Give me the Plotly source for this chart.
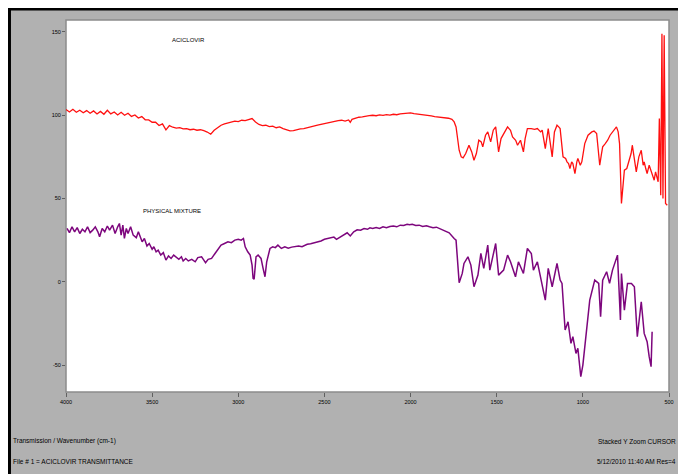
import plotly.graph_objects as go

# ---------------- data ----------------
x_ticks = [4000, 3500, 3000, 2500, 2000, 1500, 1000, 500]
y_ticks = [150, 100, 50, 0, -50]

aciclovir_wn = [
    4000, 3980, 3960, 3940, 3920, 3900, 3880, 3860, 3840, 3820, 3800, 3780, 3760, 3740, 3720, 3700,
    3680, 3660, 3640, 3620, 3600, 3580, 3560, 3540, 3520, 3500, 3480, 3460, 3440, 3420, 3400, 3380,
    3360, 3340, 3320, 3300, 3280, 3260, 3240, 3220, 3200, 3180, 3160, 3140, 3120, 3100, 3080, 3060,
    3040, 3020, 3000, 2980, 2960, 2940, 2920, 2900, 2880, 2860, 2840, 2820, 2800, 2780, 2760, 2740,
    2720, 2700, 2680, 2660, 2640, 2620, 2600, 2580, 2560, 2540, 2520, 2500, 2480, 2460, 2440, 2420,
    2400, 2380, 2360, 2350, 2340, 2320, 2300, 2280, 2260, 2240, 2220, 2200, 2180, 2160, 2140, 2120,
    2100, 2080, 2060, 2040, 2020, 2000, 1980, 1960, 1940, 1920, 1900, 1880, 1860, 1840, 1820, 1800,
    1780, 1760, 1747, 1736, 1718, 1706, 1695, 1680, 1661, 1645, 1632, 1618, 1604, 1590, 1581, 1565,
    1552, 1535, 1520, 1506, 1489, 1475, 1460, 1437, 1420, 1408, 1390, 1379, 1362, 1345, 1335, 1322,
    1300, 1280, 1264, 1245, 1236, 1218, 1201, 1178, 1165, 1150, 1140, 1132, 1115, 1100, 1092, 1083,
    1075, 1065, 1058, 1046, 1035, 1029, 1015, 1006, 989, 970, 948, 935, 920, 910, 902, 893,
    885, 870, 856, 842, 828, 815, 805, 795, 787, 776, 765, 759, 745, 730, 720, 713,
    700, 690, 675, 661, 650, 644, 635, 627, 615, 604, 595, 586, 578, 569, 563, 556,
    548, 541, 535, 528, 520, 510,
]
aciclovir_t = [
    103.5, 102.0, 103.6, 101.8, 103.0, 101.5, 102.8, 101.2, 102.6, 100.8, 102.3, 100.6, 103.0, 100.8, 102.0, 100.2,
    101.8, 100.0, 101.2, 99.3, 100.2, 98.3, 99.2, 97.3, 97.2, 95.8, 95.8, 93.8, 94.8, 91.2, 93.8, 92.8,
    92.3, 92.6, 91.8, 92.0, 91.3, 91.6, 91.0, 91.3, 90.7, 89.9, 88.6, 91.0, 92.5, 94.0, 94.8, 95.5,
    96.0, 96.5, 96.2, 97.0, 96.8, 97.5, 98.0, 96.0, 94.5, 93.8, 94.0, 93.2, 93.5, 92.5, 93.0, 92.0,
    91.2, 90.6, 90.8, 91.5, 91.8, 92.0, 92.4, 93.0, 93.5, 94.0, 94.5, 95.0, 95.6, 96.0, 96.2, 96.8,
    97.0, 96.5, 97.2, 95.8, 97.5, 98.2, 98.8, 99.0, 99.6, 99.8, 100.0, 99.7, 100.2, 99.9, 100.4, 100.1,
    100.6, 100.3, 100.8, 101.0, 101.2, 101.4, 101.0, 100.8, 100.5, 100.2, 99.8, 99.6, 99.2, 99.0, 98.8, 98.4,
    98.2, 97.5, 96.0, 93.0, 79.0, 75.0, 74.4, 77.0, 82.0, 78.0, 73.0, 77.0, 85.0, 84.0, 81.0, 88.0,
    90.0, 84.0, 91.0, 93.0, 78.0, 86.0, 89.0, 93.0, 91.0, 87.0, 85.0, 82.0, 85.0, 78.0, 86.0, 92.0,
    92.0, 91.5, 92.0, 90.0, 91.0, 80.0, 92.0, 75.0, 90.0, 94.0, 93.0, 92.0, 75.0, 74.0, 72.0, 71.0,
    68.0, 72.0, 71.0, 65.0, 72.0, 74.0, 70.0, 72.0, 83.0, 88.0, 90.0, 90.5, 89.0, 80.0, 70.0, 76.0,
    81.0, 83.0, 85.0, 88.0, 90.0, 92.0, 93.0, 90.0, 83.0, 47.0, 62.0, 67.0, 68.0, 73.0, 77.0, 82.0,
    74.0, 66.0, 75.0, 79.0, 70.0, 72.0, 68.0, 65.0, 70.0, 67.0, 64.0, 61.0, 66.0, 63.0, 60.0, 98.0,
    52.0, 149.0, 50.0, 148.0, 47.0, 46.0,
]

mixture_wn = [
    3994, 3980, 3965, 3950, 3935, 3920, 3905, 3890, 3875, 3860, 3845, 3830, 3815, 3805, 3790, 3775,
    3760, 3747, 3730, 3715, 3700, 3690, 3680, 3670, 3661, 3650, 3640, 3625, 3610, 3592, 3580, 3570,
    3558, 3545, 3530, 3517, 3500, 3490, 3477, 3465, 3450, 3435, 3420, 3405, 3390, 3375, 3362, 3345,
    3330, 3320, 3305, 3290, 3270, 3250, 3235, 3213, 3200, 3190, 3175, 3155, 3135, 3115, 3100, 3080,
    3060, 3040, 3020, 3000, 2983, 2970, 2960, 2945, 2931, 2920, 2914, 2908, 2900, 2897, 2885, 2868,
    2856, 2845, 2835, 2816, 2800, 2785, 2770, 2750, 2730, 2710, 2690, 2672, 2650, 2630, 2615, 2600,
    2580, 2557, 2540, 2520, 2500, 2483, 2465, 2445, 2430, 2408, 2390, 2368, 2350, 2330, 2310, 2290,
    2270, 2250, 2236, 2220, 2200, 2180, 2160, 2140, 2120, 2100, 2080, 2060, 2040, 2020, 2006, 1990,
    1970, 1950, 1930, 1908, 1890, 1870, 1850, 1833, 1815, 1793, 1776, 1747, 1736, 1718, 1700, 1690,
    1667, 1650, 1632, 1609, 1592, 1575, 1552, 1540, 1523, 1506, 1489, 1460, 1437, 1420, 1391, 1374,
    1345, 1322, 1299, 1287, 1264, 1240, 1218, 1201, 1178, 1150, 1132, 1121, 1103, 1086, 1069, 1058,
    1040, 1029, 1012, 1000, 977, 960, 931, 908, 897, 885, 862, 845, 828, 799, 782, 776,
    759, 741, 718, 701, 684, 661, 644, 627, 615, 604, 598,
]
mixture_t = [
    32.0, 29.5, 33.0, 30.0, 32.5, 29.0, 31.5, 30.0, 33.0, 29.5, 31.0, 33.0, 30.0, 27.0, 32.0, 30.0,
    33.5, 31.0, 34.0, 29.0, 33.0, 35.0, 28.0, 34.0, 26.0, 32.0, 29.0, 33.0, 28.0, 26.5, 30.0, 27.0,
    24.0, 26.0, 21.5, 23.0, 19.5, 21.0, 18.0, 19.0, 16.0, 17.5, 13.0, 15.5, 14.0, 16.0, 15.0, 13.5,
    15.0, 12.5, 14.0, 12.5, 13.5, 12.0, 14.5, 15.0, 13.0, 11.4, 13.5, 14.0, 17.0, 20.0, 22.0, 23.0,
    24.0, 23.5, 25.0, 25.5, 25.0, 26.0, 21.0, 18.0, 16.0, 10.0, 2.0, 1.5, 10.0, 15.0, 16.0, 14.0,
    8.0, 3.0, 12.0, 20.0, 21.0, 20.5, 22.0, 20.0, 21.0, 20.2, 20.8, 21.0, 21.5, 21.0, 22.0, 22.5,
    22.8, 23.4, 24.0, 24.5, 25.5, 25.8, 26.2, 26.8, 25.5, 27.0, 28.0, 29.4, 27.5, 30.0, 31.2, 31.0,
    32.0, 31.5, 32.4, 32.0, 32.6, 32.0, 33.0, 32.5, 33.2, 33.5, 33.0, 34.0, 33.8, 34.5, 34.2, 34.5,
    33.8, 34.0, 33.2, 33.6, 33.0, 32.5, 32.8, 32.0, 31.5, 30.0, 29.4, 26.0, 25.0, -0.6, 5.0, 11.0,
    15.0, 10.0, -3.0, 4.0, 17.0, 8.0, 22.0, 7.0, 15.0, 23.0, 4.0, 7.0, 16.0, 12.0, 3.0, 12.0,
    5.0, 20.0, 17.0, 7.0, 12.0, 0.0, -11.0, 8.0, -3.0, 11.0, 1.0, -1.0, -29.0, -24.0, -37.0, -33.0,
    -43.0, -40.0, -57.0, -50.0, -27.0, -11.0, 1.0, -1.0, -21.0, 1.0, 6.0, -1.0, 7.0, 16.0, -23.0, 5.0,
    -17.0, -1.0, -1.0, -3.0, -33.0, -12.0, -31.0, -36.0, -45.0, -51.0, -30.0,
]

series_labels = ["ACICLOVIR", "PHYSICAL MIXTURE"]
footer_left = ["Transmission / Wavenumber (cm-1)", "File # 1 = ACICLOVIR TRANSMITTANCE"]
footer_right = ["Stacked Y Zoom CURSOR", "5/12/2010 11:40 AM Res=4"]

# ---------------- figure ----------------
# the page has an 8px body margin, so the figure starts at (8, 8)
OFF = 8
W, H = 686 - OFF, 474 - OFF
L, T = 66 - OFF, 20 - OFF
R = W - (674 - OFF)
B = H - (392 - OFF)
pw, ph = W - L - R, H - T - B


def px_x(p):
    # page pixel -> paper fraction
    return (p - OFF - L) / pw


def px_y(p):
    return (H - B - (p - OFF)) / ph


FONT = "Liberation Sans"

fig = go.Figure()
fig.add_trace(go.Scatter(x=aciclovir_wn, y=aciclovir_t, mode="lines",
                         line=dict(color="#ff1010", width=1.3), name=series_labels[0]))
fig.add_trace(go.Scatter(x=mixture_wn, y=mixture_t, mode="lines",
                         line=dict(color="#7d067d", width=1.5), name=series_labels[1]))

shapes = [
    # grey panel with black frame (top / left visible)
    dict(type="rect", xref="paper", yref="paper", layer="below",
         x0=px_x(9), x1=px_x(700), y0=px_y(490), y1=px_y(9),
         fillcolor="#b1b1b1", line=dict(color="black", width=3)),
    # white plotting area
    dict(type="rect", xref="paper", yref="paper", layer="below",
         x0=0, x1=1, y0=0, y1=1, fillcolor="white",
         line=dict(color="#8c8c8c", width=1.5)),
]

annotations = [
    dict(x=3287, y=145, xref="x", yref="y", text=series_labels[0], showarrow=False,
         font=dict(size=6, color="black", family=FONT)),
    dict(x=3385, y=42.5, xref="x", yref="y", text=series_labels[1], showarrow=False,
         font=dict(size=6, color="black", family=FONT)),
    dict(x=px_x(11), y=px_y(441), xref="paper", yref="paper", text=footer_left[0],
         showarrow=False, xanchor="left", yanchor="middle",
         font=dict(size=6.5, color="black", family=FONT)),
    dict(x=px_x(11), y=px_y(461), xref="paper", yref="paper", text=footer_left[1],
         showarrow=False, xanchor="left", yanchor="middle",
         font=dict(size=6.5, color="black", family=FONT)),
    dict(x=px_x(683), y=px_y(441), xref="paper", yref="paper", text=footer_right[0],
         showarrow=False, xanchor="right", yanchor="middle",
         font=dict(size=6.5, color="black", family=FONT)),
    dict(x=px_x(683), y=px_y(461), xref="paper", yref="paper", text=footer_right[1],
         showarrow=False, xanchor="right", yanchor="middle",
         font=dict(size=6.5, color="black", family=FONT)),
]

fig.update_layout(
    width=W, height=H,
    margin=dict(l=L, r=R, t=T, b=B, pad=0),
    paper_bgcolor="white", plot_bgcolor="white",
    showlegend=False,
    shapes=shapes, annotations=annotations,
    font=dict(family=FONT, size=6, color="black"),
)
fig.update_xaxes(range=[4000, 500], tickvals=x_ticks, ticktext=[str(v) for v in x_ticks],
                 showgrid=False, zeroline=False, showline=False,
                 ticks="outside", ticklen=4, tickcolor="#606060", tickwidth=1,
                 tickfont=dict(size=5.5, family=FONT, color="black"))
fig.update_yaxes(range=[-66.2, 157.2], tickvals=y_ticks, ticktext=[str(v) for v in y_ticks],
                 showgrid=False, zeroline=False, showline=False,
                 ticks="outside", ticklen=3, tickcolor="#606060", tickwidth=1,
                 tickfont=dict(size=5.5, family=FONT, color="black"))

fig.write_html("out.html")
